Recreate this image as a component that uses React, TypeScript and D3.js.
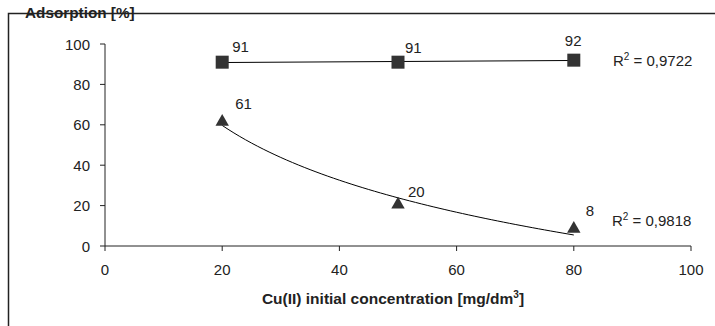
import * as d3 from "d3";
import React from "react";

// concentrations [mg/dm3]
const conc = [20, 50, 80];
// adsorption [%]
const squareVals = [91, 91, 92];
const triangleVals = [61, 20, 8];
const squareR2 = "0,9722";
const triangleR2 = "0,9818";
const xTicks = [0, 20, 40, 60, 80, 100];
const yTicks = [0, 20, 40, 60, 80, 100];

// label nudges (px) as placed in the original
const squareLabelOffset: [number, number][] = [[10, -10], [7, -9], [-9, -14]];
const triangleLabelOffset: [number, number][] = [[13, -14], [10, -9], [12, -14]];

const W = 715;
const H = 326;
const font = "'Liberation Sans', Arial, sans-serif";
const ink = "#222";
const fs = 15;

// least-squares fits, as the spreadsheet trendlines
function linFit(xs: number[], ys: number[]) {
  const mx = d3.mean(xs)!;
  const my = d3.mean(ys)!;
  const b =
    d3.sum(xs, (x, i) => (x - mx) * (ys[i] - my)) /
    d3.sum(xs, (x) => (x - mx) ** 2);
  return (x: number) => my + b * (x - mx);
}

export default function App() {
  const x = d3.scaleLinear().domain([0, 100]).range([105, 691]);
  const y = d3.scaleLinear().domain([0, 100]).range([246, 44]);

  const sqFit = linFit(conc, squareVals);
  const triLn = linFit(conc.map(Math.log), triangleVals);
  const samples = d3.range(20, 80.01, 1);

  const sqLine = d3
    .line<number>()
    .x((d) => x(d))
    .y((d) => y(sqFit(d)));
  const triLine = d3
    .line<number>()
    .x((d) => x(d))
    .y((d) => y(triLn(Math.log(d))))
    .curve(d3.curveMonotoneX);

  const tri = d3.symbol(d3.symbolTriangle, 78)();

  return (
    <svg
      width={W}
      height={H}
      style={{ position: "absolute", left: 0, top: 0, fontFamily: font }}
    >
      <rect width={W} height={H} fill="#fff" />
      {/* frame */}
      <path d={`M8.5,${H} V13.5 H${W}`} fill="none" stroke={ink} strokeWidth={1.5} />

      <text x={25} y={18} fontSize={15.3} fontWeight="bold" fill={ink}>
        Adsorption [%]
      </text>

      {/* y axis */}
      <line x1={x(0)} x2={x(0)} y1={y(100)} y2={y(0)} stroke={ink} />
      {yTicks.map((t) => (
        <g key={`y${t}`}>
          <line x1={x(0) - 5} x2={x(0)} y1={y(t)} y2={y(t)} stroke={ink} />
          <text
            x={x(0) - 15}
            y={y(t)}
            textAnchor="end"
            dominantBaseline="central"
            fontSize={fs}
            fill={ink}
          >
            {t}
          </text>
        </g>
      ))}

      {/* x axis */}
      <line x1={x(0)} x2={x(100)} y1={y(0)} y2={y(0)} stroke={ink} />
      {xTicks.map((t) => (
        <g key={`x${t}`}>
          <line x1={x(t)} x2={x(t)} y1={y(0)} y2={y(0) + 5} stroke={ink} />
          <text x={x(t)} y={y(0) + 29} textAnchor="middle" fontSize={fs} fill={ink}>
            {t}
          </text>
        </g>
      ))}
      <text x={393} y={304} textAnchor="middle" fontSize={15.5} fontWeight="bold" fill={ink}>
        Cu(II) initial concentration [mg/dm
        <tspan dy={-6} fontSize={10}>3</tspan>
        <tspan dy={6}>]</tspan>
      </text>

      {/* trendlines */}
      <path d={sqLine(conc) ?? undefined} fill="none" stroke="#000" strokeWidth={1} />
      <path d={triLine(samples) ?? undefined} fill="none" stroke="#000" strokeWidth={1} />

      {/* markers */}
      {conc.map((c, i) => (
        <g key={`s${c}`}>
          <rect x={x(c) - 6.5} y={y(squareVals[i]) - 6.5} width={13} height={13} fill="#333" />
          <text
            x={x(c) + squareLabelOffset[i][0]}
            y={y(squareVals[i]) + squareLabelOffset[i][1]}
            fontSize={fs}
            fill={ink}
          >
            {squareVals[i]}
          </text>
        </g>
      ))}
      {conc.map((c, i) => (
        <g key={`t${c}`}>
          <path d={tri ?? undefined} transform={`translate(${x(c)},${y(triangleVals[i]) - 1})`} fill="#333" />
          <text
            x={x(c) + triangleLabelOffset[i][0]}
            y={y(triangleVals[i]) + triangleLabelOffset[i][1]}
            fontSize={fs}
            fill={ink}
          >
            {triangleVals[i]}
          </text>
        </g>
      ))}

      {/* R² labels */}
      <text x={613} y={66} fontSize={fs} fill={ink}>
        R<tspan dy={-6} fontSize={10}>2</tspan>
        <tspan dy={6}> = {squareR2}</tspan>
      </text>
      <text x={612} y={226} fontSize={fs} fill={ink}>
        R<tspan dy={-6} fontSize={10}>2</tspan>
        <tspan dy={6}> = {triangleR2}</tspan>
      </text>
    </svg>
  );
}
